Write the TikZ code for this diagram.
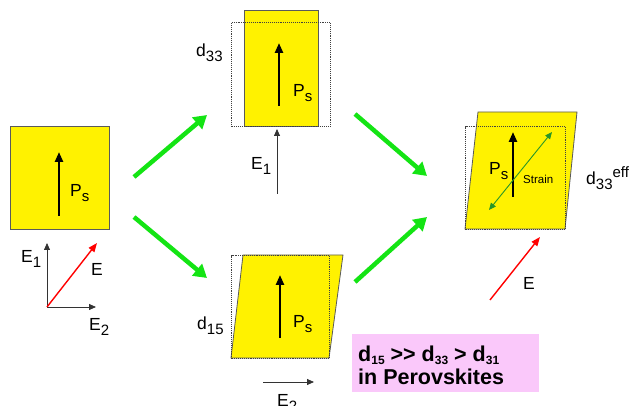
\documentclass[tikz,border=0pt]{standalone}
\usepackage{fontspec}
\setmainfont{Liberation Sans}
\usetikzlibrary{arrows.meta}
\definecolor{brgreen}{RGB}{20,228,20}
\definecolor{strgreen}{RGB}{40,150,40}
\definecolor{pinkbg}{RGB}{250,200,250}
\definecolor{edgegray}{RGB}{90,90,90}
\newcommand\lsub[1]{\raisebox{-0.28em}{\fontsize{15}{15}\selectfont #1}}
\newcommand\bsub[1]{\raisebox{-0.12em}{\fontsize{12}{12}\selectfont #1}}
\begin{document}
\begin{tikzpicture}[x=1pt,y=-1pt,
  box/.style={fill=yellow, draw=edgegray, line width=0.8pt},
  ghost/.style={draw=black!75, densely dotted, line width=1.1pt},
  pol/.style={-{Triangle[length=10pt,width=8pt]}, line width=2.4pt},
  thinarr/.style={-{Triangle[length=7pt,width=6pt]}, line width=0.8pt, draw=black!80},
  redarr/.style={-{Triangle[length=9pt,width=7pt]}, line width=1.4pt, draw=red},
  greenarr/.style={-{Triangle[length=13pt,width=15pt]}, line width=4.5pt, draw=brgreen},
  lbl/.style={font=\fontsize{17.5}{20}\selectfont, inner sep=0pt, anchor=base west},
  pinktxt/.style={lbl, font=\fontsize{21.5}{24}\selectfont\bfseries}
]
\useasboundingbox (0,0) rectangle (633,406);

% ---------- left box ----------
\node[box, anchor=north west, minimum width=99pt, minimum height=103pt, inner sep=0pt] (b0) at (10,126) {};
\coordinate (p0a) at (59,216); \coordinate (p0b) at (59,152);
\draw[pol] (p0a) -- (p0b);
\node[lbl] (ps0) at (70,197) {P\lsub{s}};

% axes
\coordinate (o) at (47,307);
\coordinate (ax1) at (47,243);
\coordinate (ax2) at (96,307);
\coordinate (ae) at (97,243);
\draw[thinarr] (o) -- (ax1);
\draw[thinarr] (o) -- (ax2);
\draw[redarr] (o) -- (ae);
\node[lbl] (le1) at (21,263) {E\lsub{1}};
\node[lbl] (le) at (91,276) {E};
\node[lbl] (le2) at (89,331) {E\lsub{2}};

% ---------- top box (d33) ----------
\node[box, anchor=north west, minimum width=74pt, minimum height=116pt, inner sep=0pt] (b1) at (244,10) {};
\node[ghost, anchor=north west, minimum width=99pt, minimum height=104pt, inner sep=0pt] (g1) at (231,22) {};
\coordinate (p1a) at (279,106); \coordinate (p1b) at (279,43);
\draw[pol] (p1a) -- (p1b);
\node[lbl] (ps1) at (293,97) {P\lsub{s}};
\node[lbl] (d33) at (196,57) {d\lsub{33}};
\coordinate (e1a) at (277,194); \coordinate (e1b) at (277,129);
\draw[thinarr] (e1a) -- (e1b);
\node[lbl] (te1) at (251,170) {E\lsub{1}};

% ---------- bottom box (d15) ----------
\coordinate (q1) at (243,255); \coordinate (q2) at (343,255);
\coordinate (q3) at (329,358); \coordinate (q4) at (231,358);
\draw[box] (q1) -- (q2) -- (q3) -- (q4) -- cycle;
\node[ghost, anchor=north west, minimum width=98pt, minimum height=103pt, inner sep=0pt] (g2) at (231,255) {};
\coordinate (p2a) at (280,338); \coordinate (p2b) at (280,275);
\draw[pol] (p2a) -- (p2b);
\node[lbl] (ps2) at (293,328) {P\lsub{s}};
\node[lbl] (d15) at (197,330) {d\lsub{15}};
\coordinate (e2a) at (263,382); \coordinate (e2b) at (314,382);
\draw[thinarr] (e2a) -- (e2b);
\node[lbl] (be2) at (277,407) {E\lsub{2}};

% ---------- right box (d33 eff) ----------
\coordinate (r1) at (478,112); \coordinate (r2) at (577,112);
\coordinate (r3) at (565,229); \coordinate (r4) at (465,229);
\draw[box] (r1) -- (r2) -- (r3) -- (r4) -- cycle;
\node[ghost, anchor=north west, minimum width=100pt, minimum height=103pt, inner sep=0pt] (g3) at (465,126) {};
\coordinate (p3a) at (513,197); \coordinate (p3b) at (513,132);
\draw[pol] (p3a) -- (p3b);
\coordinate (sa) at (489,210); \coordinate (sb) at (552,132);
\draw[{Triangle[length=7pt,width=6pt]}-{Triangle[length=7pt,width=6pt]}, line width=0.9pt, draw=strgreen] (sa) -- (sb);
\node[lbl] (ps3) at (489,175) {P\lsub{s}};
\node[lbl, font=\fontsize{11.5}{12}\selectfont] (strain) at (523,184) {Strain};
\node[lbl] (d33e) at (586,185) {d\lsub{33}\raisebox{0.45em}{\fontsize{15}{15}\selectfont eff}};
\coordinate (rea) at (490,300); \coordinate (reb) at (540,237);
\draw[redarr] (rea) -- (reb);
\node[lbl] (re) at (523,290) {E};

% ---------- green arrows ----------
\coordinate (ga1) at (134,177); \coordinate (gb1) at (207,115);
\coordinate (ga2) at (134,217); \coordinate (gb2) at (207,278);
\coordinate (ga3) at (355,114); \coordinate (gb3) at (427,176);
\coordinate (ga4) at (355,282); \coordinate (gb4) at (427,217);
\draw[greenarr] (ga1) -- (gb1);
\draw[greenarr] (ga2) -- (gb2);
\draw[greenarr] (ga3) -- (gb3);
\draw[greenarr] (ga4) -- (gb4);

% ---------- pink box ----------
\node[fill=pinkbg, anchor=north west, minimum width=187pt, minimum height=58pt, inner sep=0pt] (pk) at (352,334) {};
\node[pinktxt] (t1) at (358,362) {d\bsub{15} {>}{>} d\bsub{33} {>} d\bsub{31}};
\node[pinktxt] (t2) at (358,385) {in Perovskites};
\end{tikzpicture}
\end{document}
